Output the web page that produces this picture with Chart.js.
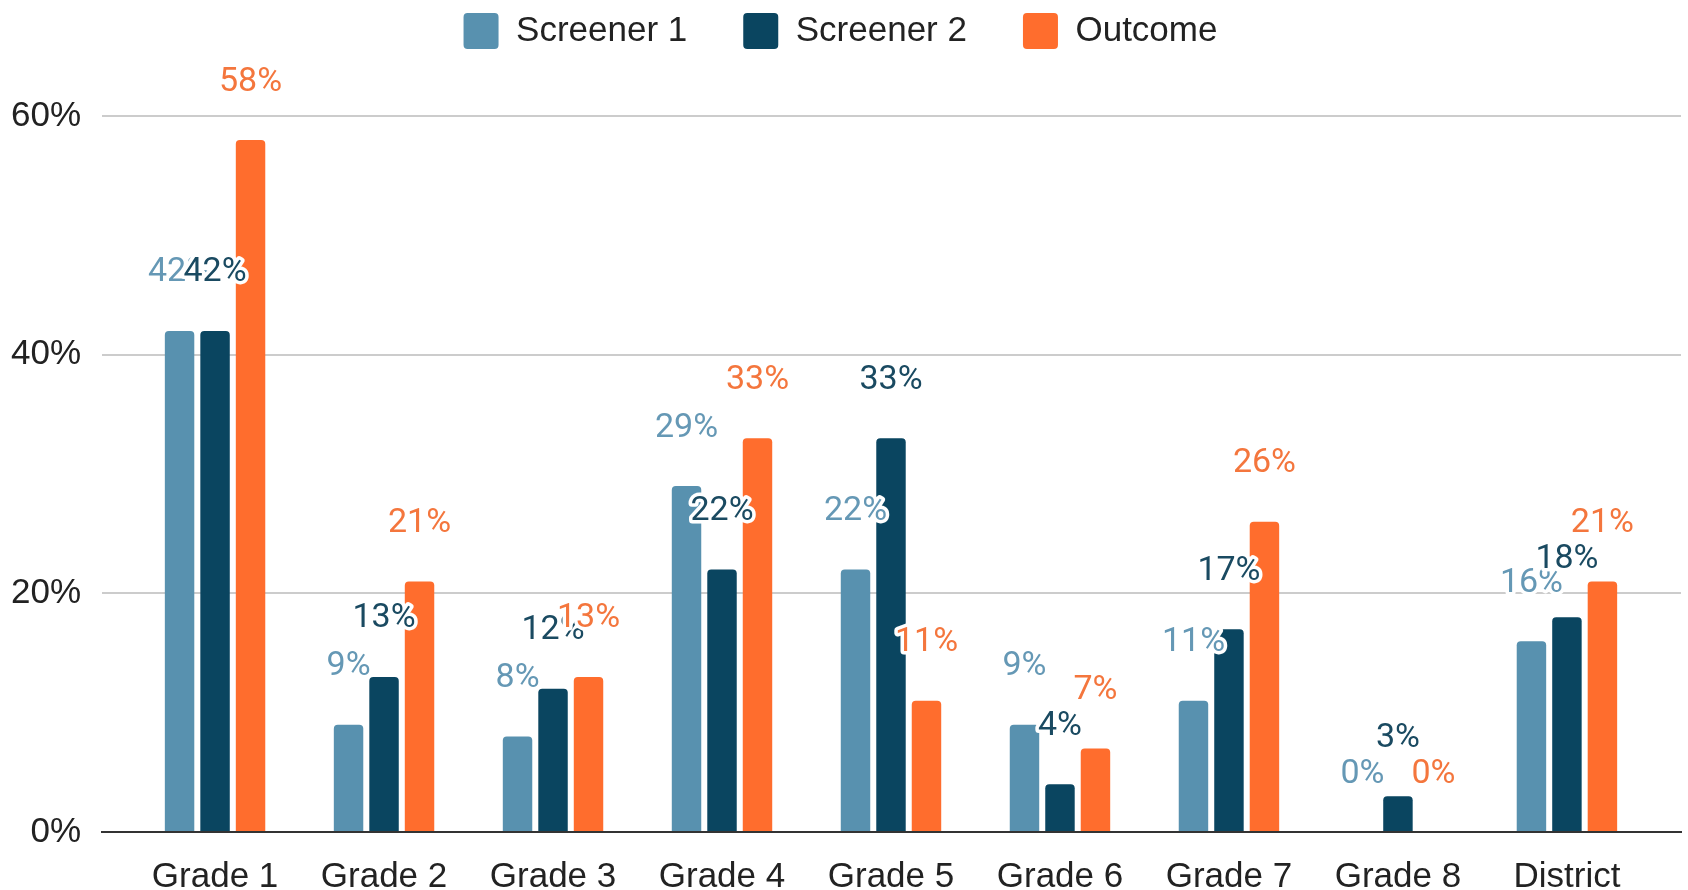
<!DOCTYPE html>
<html>
<head>
<meta charset="utf-8">
<title>Screener and outcome rates by grade</title>
<script src="https://cdn.jsdelivr.net/npm/chart.js@4.4.1/dist/chart.umd.min.js"></script>
<style>
  html, body { margin: 0; padding: 0; background: #ffffff; }
  #wrap { width: 1688px; height: 890px; }
</style>
</head>
<body>
<div id="wrap"><canvas id="chart" width="1688" height="890"></canvas></div>
<script>
// Categories along the x axis
const categories = ['Grade 1', 'Grade 2', 'Grade 3', 'Grade 4', 'Grade 5', 'Grade 6', 'Grade 7', 'Grade 8', 'District'];

// Series values (percent)
const screener1 = [42, 9, 8, 29, 22, 9, 11, 0, 16];
const screener2 = [42, 13, 12, 22, 33, 4, 17, 3, 18];
const outcome = [58, 21, 13, 33, 11, 7, 26, 0, 21];

// Y axis tick values (percent)
const yTicks = [0, 20, 40, 60];

const seriesNames = ['Screener 1', 'Screener 2', 'Outcome'];
const barColors = ['#5891af', '#0a4560', '#ff6d2d'];
const labelColors = ['#6598b5', '#1a4a61', '#f4763d'];

const axisFont = { family: '"Liberation Sans", Arial, sans-serif', size: 35 };
const valueFont = '34px Roboto, "Liberation Sans", sans-serif';

// Value labels above each bar, with a white halo so overlapping labels stay legible
const valueLabels = {
  id: 'valueLabels',
  afterDatasetsDraw(chart) {
    const ctx = chart.ctx;
    ctx.save();
    ctx.font = valueFont;
    ctx.textAlign = 'center';
    ctx.textBaseline = 'middle';
    ctx.lineJoin = 'round';
    chart.data.datasets.forEach((ds, di) => {
      const meta = chart.getDatasetMeta(di);
      meta.data.forEach((bar, i) => {
        const text = ds.data[i] + '%';
        const x = bar.x;
        const y = bar.y - 58;
        ctx.lineWidth = 7;
        ctx.strokeStyle = '#ffffff';
        ctx.strokeText(text, x, y);
        ctx.fillStyle = labelColors[di];
        ctx.fillText(text, x, y);
      });
    });
    ctx.restore();
  }
};

const seriesData = [screener1, screener2, outcome];

new Chart(document.getElementById('chart'), {
  type: 'bar',
  data: {
    labels: categories.map((c, i) => i),
    datasets: seriesData.map((values, i) => ({
      label: seriesNames[i],
      data: values,
      backgroundColor: barColors[i],
      borderColor: barColors[i],
      borderWidth: 0,
      borderRadius: { topLeft: 4, topRight: 4, bottomLeft: 0, bottomRight: 0 },
      borderSkipped: 'bottom',
      categoryPercentage: 0.63,
      barPercentage: 0.83
    }))
  },
  options: {
    responsive: false,
    animation: false,
    devicePixelRatio: 1,
    layout: { padding: { top: -43, right: 7, bottom: 0, left: 0 } },
    plugins: {
      tooltip: { enabled: false },
      legend: {
        position: 'top',
        align: 'center',
        labels: {
          font: axisFont,
          color: '#222222',
          boxWidth: 35,
          boxHeight: 36,
          padding: 56,
          generateLabels(chart) {
            return chart.data.datasets.map((ds, i) => ({
              text: ds.label,
              fillStyle: barColors[i],
              strokeStyle: barColors[i],
              lineWidth: 0,
              borderRadius: 4,
              fontColor: '#222222',
              datasetIndex: i,
              hidden: false
            }));
          }
        }
      }
    },
    scales: {
      x: {
        type: 'linear',
        offset: false,
        min: -0.669,
        max: 8.675,
        grid: { display: false, drawTicks: false },
        border: { display: true, color: '#333333', width: 2 },
        ticks: {
          stepSize: 1,
          includeBounds: false,
          autoSkip: false,
          maxRotation: 0,
          padding: 24,
          color: '#222222',
          font: axisFont,
          callback: (v) => categories[v] !== undefined ? categories[v] : ''
        },
        afterFit: (scale) => { scale.height = 58; }
      },
      y: {
        type: 'linear',
        min: 0,
        max: 64.8,
        grid: {
          drawTicks: false,
          lineWidth: 2,
          color: (c) => (c.tick && c.tick.value === 0) ? 'rgba(0,0,0,0)' : '#cccccc'
        },
        border: { display: false },
        afterBuildTicks: (scale) => { scale.ticks = yTicks.map(v => ({ value: v })); },
        ticks: {
          padding: 21,
          color: '#222222',
          font: axisFont,
          callback: (v) => v + '%'
        },
        afterFit: (scale) => { scale.width = 102; }
      }
    }
  },
  plugins: [valueLabels]
});
</script>
</body>
</html>
